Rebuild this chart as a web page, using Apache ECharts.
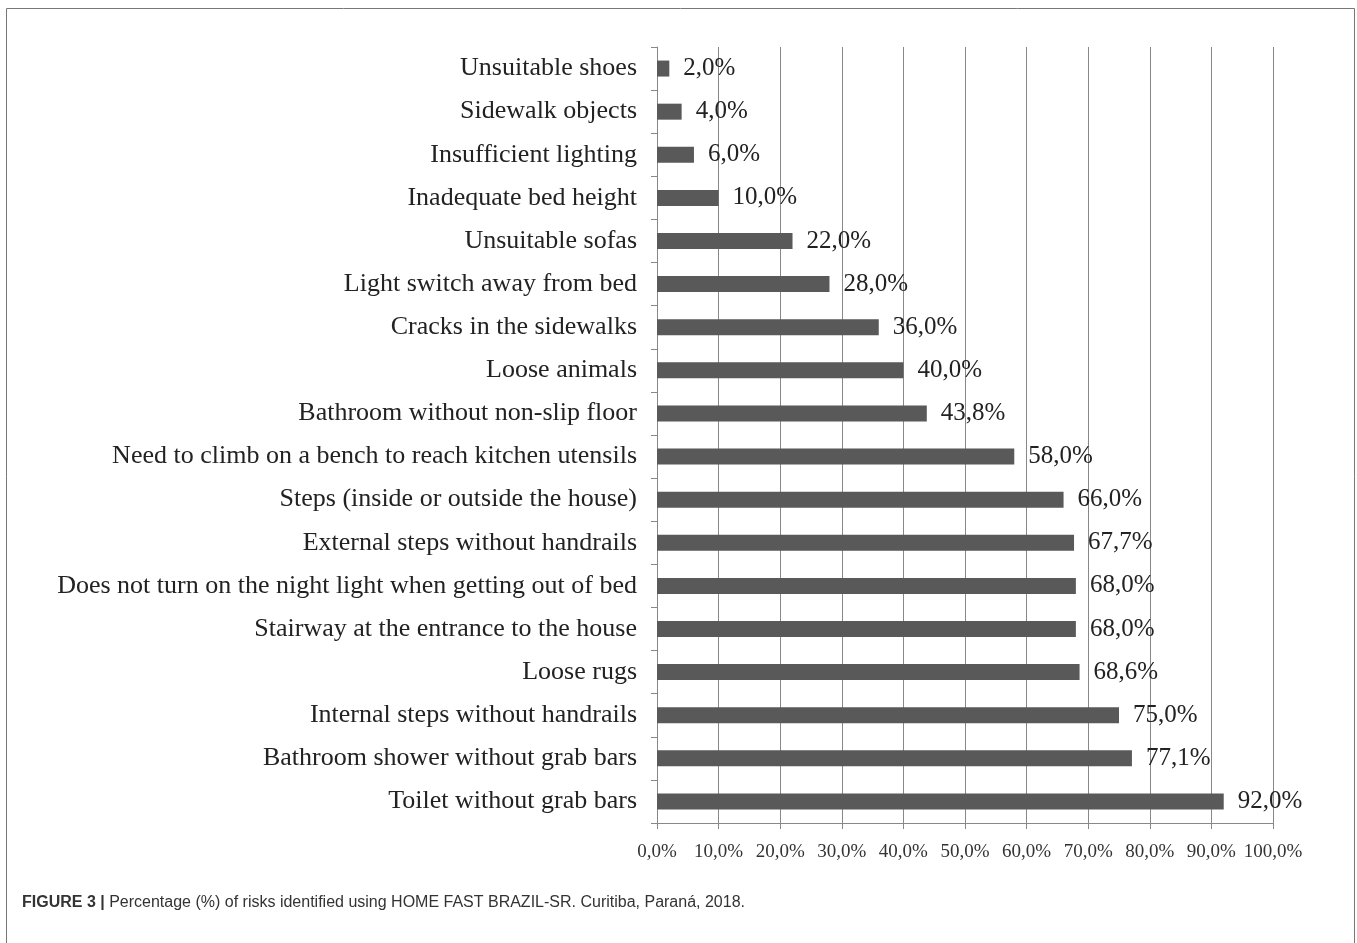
<!DOCTYPE html>
<html>
<head>
<meta charset="utf-8">
<script src="https://cdn.jsdelivr.net/npm/echarts@6/dist/echarts.min.js"></script>
<style>
  html, body { margin: 0; padding: 0; background: #fff; }
  #chart { width: 1357px; height: 943px; }
</style>
</head>
<body>
<div id="chart"></div>
<script>
var categories = [
    'Unsuitable shoes',
    'Sidewalk objects',
    'Insufficient lighting',
    'Inadequate bed height',
    'Unsuitable sofas',
    'Light switch away from bed',
    'Cracks in the sidewalks',
    'Loose animals',
    'Bathroom without non-slip floor',
    'Need to climb on a bench to reach kitchen utensils',
    'Steps (inside or outside the house)',
    'External steps without handrails',
    'Does not turn on the night light when getting out of bed',
    'Stairway at the entrance to the house',
    'Loose rugs',
    'Internal steps without handrails',
    'Bathroom shower without grab bars',
    'Toilet without grab bars'
];
var percents = [2.0, 4.0, 6.0, 10.0, 22.0, 28.0, 36.0, 40.0, 43.8, 58.0, 66.0, 67.7, 68.0, 68.0, 68.6, 75.0, 77.1, 92.0];
var xTicks = { min: 0, max: 100, step: 10 };

function pct(v) {
    return Number(v).toFixed(1).replace('.', ',') + '%';
}

var myChart = echarts.init(document.getElementById('chart'));
var serif = '"Liberation Serif", "DejaVu Serif", serif';

option = {
    backgroundColor: '#fff',
    animation: false,
    title: {
        left: 17,
        top: 890,
        text: '{b|FIGURE 3 |} Percentage (%) of risks identified using HOME FAST BRAZIL-SR. Curitiba, Paraná, 2018.',
        textStyle: {
            fontFamily: '"Liberation Sans", Arial, sans-serif',
            fontSize: 16,
            fontWeight: 'normal',
            color: '#333',
            rich: {
                b: { fontFamily: '"Liberation Sans", Arial, sans-serif', fontSize: 16, fontWeight: 'bold', color: '#333' }
            }
        }
    },
    graphic: [{
        type: 'rect',
        shape: { x: 6.5, y: 8.5, width: 1348, height: 950 },
        style: { fill: 'none', stroke: '#777', lineWidth: 1 },
        silent: true
    }],
    grid: { left: 657, right: 84, top: 47, bottom: 120, containLabel: false },
    xAxis: {
        type: 'value',
        min: xTicks.min,
        max: xTicks.max,
        interval: xTicks.step,
        axisLine: { show: true, lineStyle: { color: '#888', width: 1 } },
        axisTick: { show: true, length: 6, lineStyle: { color: '#888' } },
        splitLine: { show: true, lineStyle: { color: '#888', width: 1 } },
        axisLabel: {
            margin: 20,
            fontFamily: serif,
            fontSize: 19,
            color: '#333',
            formatter: function (v) { return pct(v); }
        }
    },
    yAxis: {
        type: 'category',
        inverse: true,
        data: categories,
        axisLine: { show: true, lineStyle: { color: '#888', width: 1 } },
        axisTick: { show: true, length: 6, lineStyle: { color: '#888' } },
        axisLabel: {
            margin: 20,
            fontFamily: serif,
            fontSize: 26,
            color: '#222'
        }
    },
    series: [{
        type: 'bar',
        data: percents,
        barWidth: 16,
        itemStyle: { color: '#595959' },
        label: {
            show: true,
            position: 'right',
            distance: 14,
            fontFamily: serif,
            fontSize: 25,
            color: '#222',
            formatter: function (p) { return pct(p.value); }
        }
    }]
};

myChart.setOption(option);
</script>
</body>
</html>
